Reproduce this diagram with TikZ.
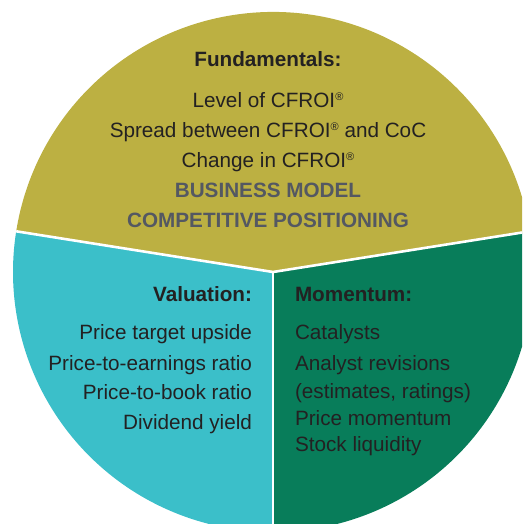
\documentclass[tikz,border=0pt]{standalone}
\usepackage{fontspec}
\setmainfont{Liberation Sans}
\definecolor{olivefill}{RGB}{188,176,66}
\definecolor{cyanfill}{RGB}{59,191,201}
\definecolor{greenfill}{RGB}{8,125,90}
\definecolor{darktext}{RGB}{35,33,34}
\definecolor{graytext}{RGB}{84,88,98}
\newcommand\regmark{\raisebox{7pt}{\fontsize{11}{11}\selectfont ®}}
\tikzset{
  divider/.style={draw=white, line width=2.6pt},
  txt/.style={inner sep=0pt, outer sep=0pt, text=darktext, font=\fontsize{20.7}{30}\selectfont},
  head/.style={txt, font=\fontsize{20.7}{30}\selectfont\bfseries},
  caps/.style={txt, text=graytext, font=\fontsize{20.7}{30}\selectfont\bfseries},
}
\begin{document}
\begin{tikzpicture}[x=1pt,y=1pt]
\useasboundingbox (0,0) rectangle (522,524);
\coordinate (c) at (273,252);
\coordinate (pR) at (529.8,292.7);
\coordinate (pL) at (16.2,292.7);
\coordinate (pB) at (273,-8);
\begin{scope}
  \clip (0,0) rectangle (522,524);
  \fill[olivefill] (c) -- (pR) arc[start angle=9, end angle=171, radius=260] -- cycle;
  \fill[cyanfill] (c) -- (pL) arc[start angle=171, end angle=270, radius=260] -- cycle;
  \fill[greenfill] (c) -- (pB) arc[start angle=270, end angle=369, radius=260] -- cycle;
  \draw[divider] (c) -- (pR);
  \draw[divider] (c) -- (pL);
  \draw[divider] (c) -- (pB);
\end{scope}
% Fundamentals
\node[head, anchor=base] (f0) at (268,457.3) {Fundamentals:};
\node[txt, anchor=base] (f1) at (268,416) {Level of CFROI\regmark};
\node[txt, anchor=base] (f2) at (268,386) {Spread between CFROI\regmark{} and CoC};
\node[txt, anchor=base] (f3) at (268,356) {Change in CFROI\regmark};
\node[caps, anchor=base] (f4) at (268,326) {BUSINESS MODEL};
\node[caps, anchor=base] (f5) at (268,296) {COMPETITIVE POSITIONING};
% Valuation
\node[head, anchor=base east] (v0) at (252,222.3) {Valuation:};
\node[txt, anchor=base east] (v1) at (252,184) {Price target upside};
\node[txt, anchor=base east] (v2) at (252,153.3) {Price-to-earnings ratio};
\node[txt, anchor=base east] (v3) at (252,124) {Price-to-book ratio};
\node[txt, anchor=base east] (v4) at (252,94) {Dividend yield};
% Momentum
\node[head, anchor=base west] (m0) at (295,222.3) {Momentum:};
\node[txt, anchor=base west] (m1) at (295,184) {Catalysts};
\node[txt, anchor=base west] (m2) at (295,153.3) {Analyst revisions};
\node[txt, anchor=base west] (m3) at (295,125.7) {(estimates, ratings)};
\node[txt, anchor=base west] (m4) at (295,98.3) {Price momentum};
\node[txt, anchor=base west] (m5) at (295,72.3) {Stock liquidity};
\end{tikzpicture}
\end{document}
